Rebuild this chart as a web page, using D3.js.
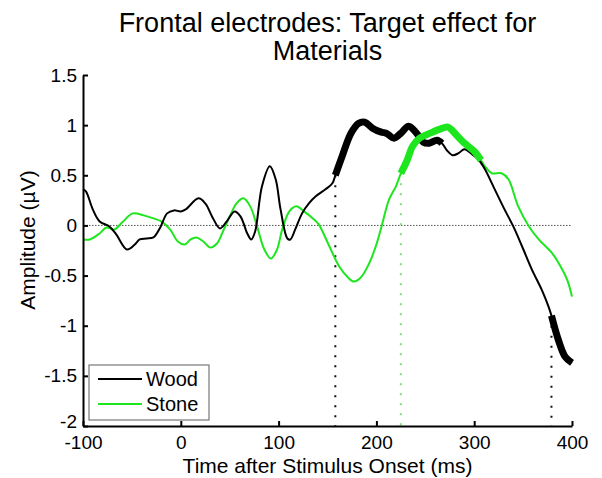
<!DOCTYPE html>
<html>
<head>
<meta charset="utf-8">
<script src="https://cdn.jsdelivr.net/npm/d3@7"></script>
<style>
body { margin: 0; background: #fff; }
svg { font-family: "Liberation Sans", Arial, sans-serif; }
</style>
</head>
<body>
<div id="chart"></div>
<script>
// values (time in ms, amplitude in µV)
var woodTime = [-100, -97, -90, -83, -73, -66, -55, -47, -42, -35, -28, -21, -14, -7, 0, 5, 18, 25, 33, 40,
    47, 55, 61, 68, 72, 76, 83, 91, 97, 102, 109, 112, 117, 124, 131, 138, 148, 155, 158, 165,
    174, 182, 188, 196, 205, 210, 218, 225, 233, 241, 248, 254, 262, 267, 272, 278, 284, 290, 299, 305,
    311, 321, 331, 340, 349, 359, 369, 376, 379, 386, 393, 400];
var woodAmp = [0.36, 0.34, 0.16, 0.04, -0.01, -0.09, -0.24, -0.19, -0.14, -0.13, -0.12, -0.02, 0.12, 0.15, 0.14, 0.16, 0.27, 0.22, 0.07, -0.03,
    0.04, 0.14, 0.09, -0.08, -0.14, -0.06, 0.39, 0.59, 0.46, 0.16, -0.13, -0.14, -0.04, 0.12, 0.22, 0.29, 0.36, 0.42, 0.50, 0.69,
    0.92, 1.02, 1.03, 0.97, 0.93, 0.92, 0.87, 0.92, 0.99, 0.92, 0.83, 0.82, 0.85, 0.82, 0.75, 0.70, 0.72, 0.76, 0.70, 0.65,
    0.56, 0.36, 0.16, -0.01, -0.21, -0.44, -0.64, -0.81, -0.90, -1.14, -1.31, -1.37];

var stoneTime = [-100, -93, -83, -76, -68, -59, -49, -38, -28, -20, -11, -3, 4, 10, 16, 23, 30, 37, 44, 51,
    57, 64, 71, 78, 85, 92, 98, 104, 111, 118, 126, 135, 141, 152, 162, 171, 177, 184, 193, 200,
    205, 213, 220, 225, 231, 237, 244, 255, 265, 273, 282, 290, 300, 307, 311, 318, 328, 335, 345, 356,
    366, 380, 386, 395, 400];
var stoneAmp = [-0.14, -0.14, -0.08, -0.02, -0.04, 0.04, 0.12, 0.10, 0.07, 0.04, -0.04, -0.16, -0.19, -0.14, -0.12, -0.16, -0.22, -0.18, -0.04, 0.11,
    0.22, 0.27, 0.19, -0.01, -0.23, -0.33, -0.25, -0.03, 0.14, 0.19, 0.14, 0.07, 0.01, -0.21, -0.41, -0.52, -0.56, -0.52, -0.37, -0.19,
    -0.02, 0.26, 0.39, 0.52, 0.64, 0.79, 0.87, 0.92, 0.96, 0.98, 0.90, 0.82, 0.74, 0.65, 0.59, 0.52, 0.52, 0.46, 0.19, -0.01,
    -0.14, -0.28, -0.37, -0.54, -0.71];

// significant windows (ms) and their onset markers
var woodWindows = [[158, 267], [379, 400]];
var stoneWindows = [[225, 307]];
var woodOnsets = [158, 379];
var stoneOnsets = [225];

var xTicks = [-100, 0, 100, 200, 300, 400];
var yTicks = [-2, -1.5, -1, -0.5, 0, 0.5, 1, 1.5];
var seriesNames = ["Wood", "Stone"];
var seriesColors = ["#000000", "#1ee61e"];

var width = 602, height = 478;
var margin = {left: 83, right: 30, top: 75, bottom: 52};

var svg = d3.select("#chart").append("svg")
    .attr("width", width)
    .attr("height", height);

var x = d3.scaleLinear().domain([-100, 400]).range([margin.left, width - margin.right]);
var y = d3.scaleLinear().domain([-2, 1.5]).range([height - margin.bottom, margin.top]);

function toPoints(ts, vs) {
    return ts.map(function(t, i) { return [t, vs[i]]; });
}
var wood = toPoints(woodTime, woodAmp);
var stone = toPoints(stoneTime, stoneAmp);

var line = d3.line()
    .x(function(d) { return x(d[0]); })
    .y(function(d) { return y(d[1]); })
    .curve(d3.curveCatmullRom.alpha(0.5));

function valueAt(pts, t) {
    for (var i = 0; i < pts.length; i++)
        if (pts[i][0] === t) return pts[i][1];
    return 0;
}

// zero line
svg.append("line")
    .attr("x1", x(-100)).attr("x2", x(400))
    .attr("y1", y(0)).attr("y2", y(0))
    .attr("stroke", "#555")
    .attr("stroke-width", 1)
    .attr("stroke-dasharray", "1.5,1.5");

// onset markers
function drawOnsets(pts, onsets, color) {
    onsets.forEach(function(t) {
        svg.append("line")
            .attr("x1", x(t)).attr("x2", x(t))
            .attr("y1", y(valueAt(pts, t))).attr("y2", y(-2))
            .attr("stroke", color)
            .attr("stroke-width", 2)
            .attr("stroke-dasharray", "2,8");
    });
}
drawOnsets(wood, woodOnsets, "#111");
drawOnsets(stone, stoneOnsets, "#7ee07e");

// thin traces
svg.append("path").datum(stone)
    .attr("d", line).attr("fill", "none")
    .attr("stroke", seriesColors[1]).attr("stroke-width", 2);
svg.append("path").datum(wood)
    .attr("d", line).attr("fill", "none")
    .attr("stroke", seriesColors[0]).attr("stroke-width", 2);

// thick segments for the significant windows
function drawWindows(pts, windows, color) {
    windows.forEach(function(w) {
        var seg = pts.filter(function(d) { return d[0] >= w[0] && d[0] <= w[1]; });
        svg.append("path").datum(seg)
            .attr("d", line).attr("fill", "none")
            .attr("stroke", color).attr("stroke-width", 7)
            .attr("stroke-linejoin", "round");
    });
}
drawWindows(wood, woodWindows, seriesColors[0]);
drawWindows(stone, stoneWindows, seriesColors[1]);

// axes (plain hyphen for negatives, as in the figure)
var fmt = function(d) { return String(d); };
var xAxis = d3.axisBottom(x).tickValues(xTicks).tickSizeInner(-5).tickSizeOuter(0).tickPadding(10).tickFormat(fmt);
var yAxis = d3.axisLeft(y).tickValues(yTicks).tickSizeInner(-5).tickSizeOuter(0).tickPadding(6).tickFormat(fmt);

var gx = svg.append("g")
    .attr("transform", "translate(0," + y(-2) + ")")
    .call(xAxis);
var gy = svg.append("g")
    .attr("transform", "translate(" + x(-100) + ",0)")
    .call(yAxis);

[gx, gy].forEach(function(g) {
    g.selectAll("path, line").attr("stroke", "#000").attr("stroke-width", 2);
    g.selectAll("text").attr("font-size", 19).attr("fill", "#000")
        .attr("font-family", "Liberation Sans, Arial, sans-serif");
});
// bottom y label sits just above the corner, clear of the x labels
gy.selectAll(".tick text").filter(function(d) { return d === -2; }).attr("dy", "0.1em");

// legend
var legend = svg.append("g").attr("transform", "translate(89,365)");
legend.append("rect")
    .attr("width", 120).attr("height", 55)
    .attr("fill", "#fff").attr("stroke", "#777").attr("stroke-width", 1.2);
seriesNames.forEach(function(name, i) {
    var row = legend.append("g").attr("transform", "translate(0," + (14 + i * 25) + ")");
    row.append("line")
        .attr("x1", 9).attr("x2", 53)
        .attr("stroke", seriesColors[i]).attr("stroke-width", 2);
    row.append("text")
        .attr("x", 57).attr("y", 7)
        .attr("font-size", 20)
        .text(name);
});

// titles
svg.append("text")
    .attr("x", x(150)).attr("y", 32)
    .attr("text-anchor", "middle")
    .attr("font-size", 27)
    .text("Frontal electrodes: Target effect for");
svg.append("text")
    .attr("x", x(150)).attr("y", 60)
    .attr("text-anchor", "middle")
    .attr("font-size", 27)
    .text("Materials");

svg.append("text")
    .attr("x", x(150)).attr("y", 473)
    .attr("text-anchor", "middle")
    .attr("font-size", 21)
    .text("Time after Stimulus Onset (ms)");

svg.append("text")
    .attr("transform", "translate(35,240) rotate(-90)")
    .attr("text-anchor", "middle")
    .attr("font-size", 21)
    .text("Amplitude (µV)");
</script>
</body>
</html>
